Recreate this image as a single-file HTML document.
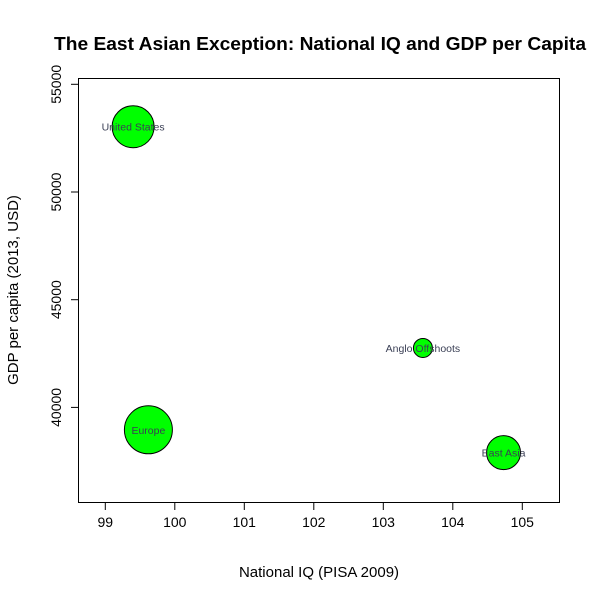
<!DOCTYPE html>
<html><head><meta charset="utf-8"><style>
body{margin:0;background:#fff}
svg{font-family:"Liberation Sans",Arial,sans-serif}
</style></head><body>
<svg id="chart" width="600" height="600">
<text x="320" y="50" text-anchor="middle" font-weight="bold" font-size="18" textLength="532" lengthAdjust="spacingAndGlyphs">The East Asian Exception: National IQ and GDP per Capita</text>
<rect x="78.5" y="78.5" width="481" height="424" fill="none" stroke="#000"/>
<text x="319" y="577" text-anchor="middle" font-size="15">National IQ (PISA 2009)</text>
<text transform="translate(18,290) rotate(-90)" text-anchor="middle" font-size="15">GDP per capita (2013, USD)</text>
<g id="xaxis"></g>
<g id="yaxis"></g>
<g id="points"></g>
</svg>
<script>
const labels=["United States","Anglo Offshoots","Europe","East Asia"];
const iq=[99.40,103.57,99.62,104.73];
const gdp=[53030,42760,38960,37900];
const sizes=[21,9.5,24,17];
const xTicks=[99,100,101,102,103,104,105];
const yTicks=[40000,45000,50000,55000];
const NS="http://www.w3.org/2000/svg";
const xs=v=>105.3+(v-99)*69.5;
const ys=v=>84.3+(55000-v)/5000*107.7;
function mk(t,a,p){const e=document.createElementNS(NS,t);for(const k in a)e.setAttribute(k,a[k]);p.appendChild(e);return e;}
const xa=document.getElementById('xaxis'),ya=document.getElementById('yaxis'),pts=document.getElementById('points');
xTicks.forEach(v=>{const x=xs(v);
const l=mk('line',{x1:x,x2:x,y1:502.5,y2:510,stroke:'#000'},xa);


const t=mk('text',{x:x,y:527,'text-anchor':'middle','font-size':14},xa);t.textContent=v;

});
yTicks.forEach(v=>{const y=ys(v);
const l=mk('line',{x1:71,x2:78.5,y1:y,y2:y,stroke:'#000'},ya);


const t=mk('text',{transform:`translate(61,${y}) rotate(-90)`,'text-anchor':'middle','font-size':14},ya);t.textContent=v;

});
labels.forEach((n,i)=>{
const c=mk('circle',{cx:xs(iq[i]),cy:ys(gdp[i]),r:sizes[i],fill:'#00ff00',stroke:'#000'},pts);


const t=mk('text',{x:xs(iq[i]),y:ys(gdp[i])+4,'text-anchor':'middle','font-size':10.5,fill:'#3a3f55'},pts);t.textContent=n;

});
</script>
</body></html>
